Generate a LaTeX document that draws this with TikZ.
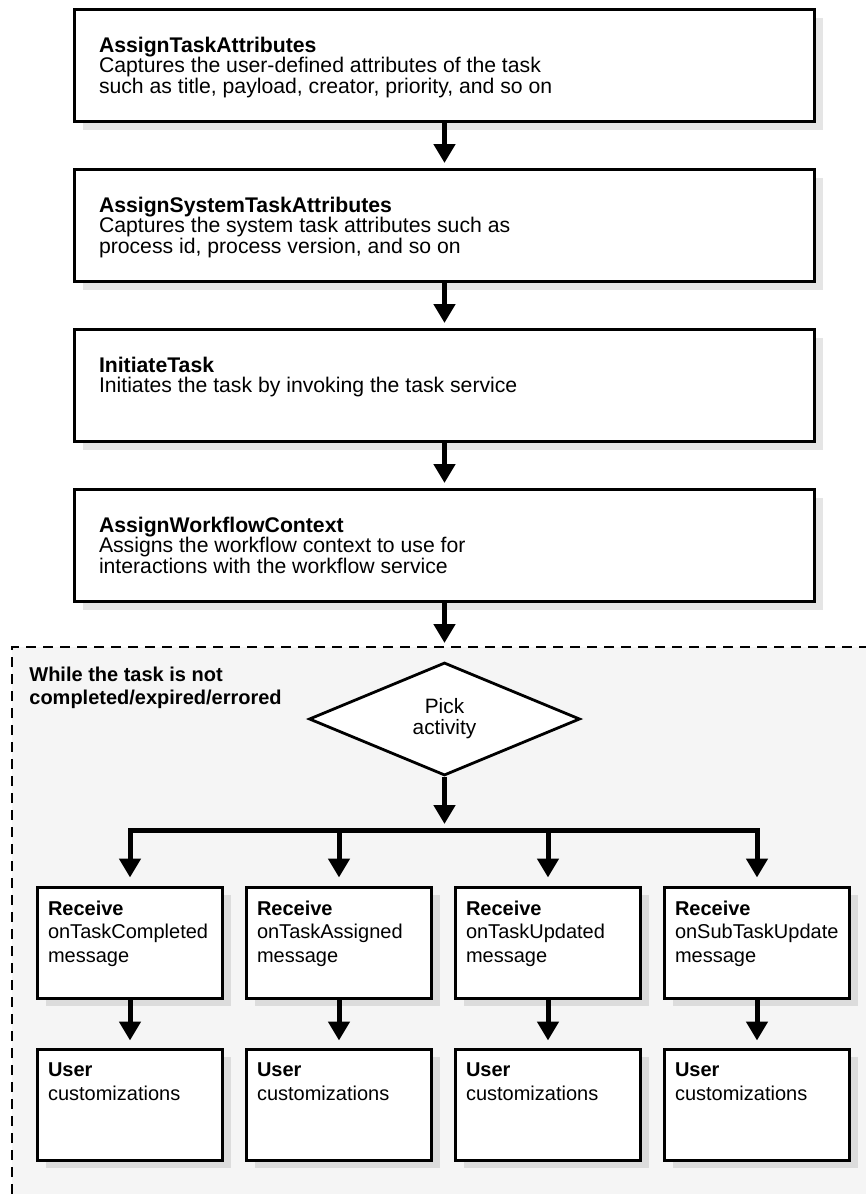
\documentclass[tikz,border=0pt]{standalone}
\usepackage{fontspec}
\setmainfont{Liberation Sans}
\usetikzlibrary{arrows.meta, positioning, shapes.geometric, shadows}
\definecolor{loopGray}{HTML}{F5F5F5}
\definecolor{lineDark}{HTML}{000000}
\hfuzz=20pt
\newcommand{\acttext}[2]{\parbox[c][56pt][t]{345.5pt}{\vspace*{13.6pt}\textbf{#1}\\#2}}
\newcommand{\msgtext}[2]{\parbox[c][55.5pt][t]{82pt}{\vspace*{6.9pt}\textbf{#1}\\#2}}

\begin{document}
\begin{tikzpicture}[
    act/.style={rectangle, draw=lineDark, line width=1.5pt, fill=white,
      minimum width=370pt, minimum height=56pt, inner xsep=12.25pt, inner ysep=0pt,
      font=\fontsize{10.6pt}{10.3pt}\selectfont,
      drop shadow={shadow xshift=4pt, shadow yshift=-4pt, fill=black, opacity=.1}},
    msg/.style={rectangle, draw=lineDark, line width=1.5pt, fill=white,
      minimum width=92.5pt, minimum height=55.5pt, inner xsep=5.25pt, inner ysep=0pt,
      font=\fontsize{10pt}{11.75pt}\selectfont,
      drop shadow={shadow xshift=4pt, shadow yshift=-4pt, fill=black, opacity=.1}},
    pick/.style={diamond, draw=lineDark, line width=1.4pt, fill=white, aspect=2.4,
      minimum width=135.5pt, minimum height=56.5pt, inner sep=0pt, align=center,
      font=\fontsize{10.4pt}{10.5pt}\selectfont},
    ar/.style={-{Triangle[length=9.5pt, width=10.5pt]}, line width=2.5pt, lineDark},
    ln/.style={line width=2.5pt, line cap=rect, lineDark},
    lb/.style={font=\bfseries\fontsize{10pt}{11.5pt}\selectfont, align=left, inner sep=0pt},
    dashbox/.style={line width=1.3pt, dash pattern=on 5pt off 3.5pt, lineDark}]
    \useasboundingbox (0,0) rectangle (433pt,-597pt);
    % loop area
    \coordinate (loop) at (6pt,-323.5pt);
    \coordinate (corner) at (433pt,-597pt);
    \fill[loopGray] (loop) rectangle (corner);
    \draw[dashbox] (loop |- corner) -- (loop) -- (loop -| corner);
    \node[lb, below right=9.7pt and 8.5pt of loop] (cond) {While the task is not\\completed/expired/errored};
    % main sequence
    \node[act] (b1) at (222.25pt,-32.75pt) {\acttext{AssignTaskAttributes}{Captures the user-defined attributes of the task\\such as title, payload, creator, priority, and so on}};
    \node[act, below=22.5pt of b1] (b2) {\acttext{AssignSystemTaskAttributes}{Captures the system task attributes such as\\process id, process version, and so on}};
    \node[act, below=22.5pt of b2] (b3) {\acttext{InitiateTask}{Initiates the task by invoking the task service}};
    \node[act, below=22.5pt of b3] (b4) {\acttext{AssignWorkflowContext}{Assigns the workflow context to use for\\interactions with the workflow service}};
    \node[pick] (pk) at (222.25pt,-359.5pt) {Pick\\activity};
    % branches
    \node[msg] (r1) at (65pt,-471.25pt) {\msgtext{Receive}{onTaskCompleted\\message}};
    \node[msg, right=10.5pt of r1] (r2) {\msgtext{Receive}{onTaskAssigned\\message}};
    \node[msg, right=10.5pt of r2] (r3) {\msgtext{Receive}{onTaskUpdated\\message}};
    \node[msg, right=10.5pt of r3] (r4) {\msgtext{Receive}{onSubTaskUpdate\\message}};
    \node[msg, below=24pt of r1] (u1) {\msgtext{User}{customizations}};
    \node[msg, below=24pt of r2] (u2) {\msgtext{User}{customizations}};
    \node[msg, below=24pt of r3] (u3) {\msgtext{User}{customizations}};
    \node[msg, below=24pt of r4] (u4) {\msgtext{User}{customizations}};
    % connectors
    \draw[ar, shorten >=2.5pt] (b1) -- (b2);
    \draw[ar, shorten >=2.5pt] (b2) -- (b3);
    \draw[ar, shorten >=2.5pt] (b3) -- (b4);
    \coordinate (entry) at (b4.south |- loop);
    \draw[ar, shorten >=2pt] (b4) -- (entry);
    \coordinate (bar) at (222.25pt,-415pt);
    \draw[ar, shorten >=3pt] (pk) -- (bar);
    \draw[ln] (r1 |- bar) -- (r4 |- bar);
    \draw[ar, shorten >=4pt] (r1 |- bar) -- (r1);
    \draw[ar, shorten >=4pt] (r2 |- bar) -- (r2);
    \draw[ar, shorten >=4pt] (r3 |- bar) -- (r3);
    \draw[ar, shorten >=4pt] (r4 |- bar) -- (r4);
    \draw[ar, shorten >=3.5pt] (r1) -- (u1);
    \draw[ar, shorten >=3.5pt] (r2) -- (u2);
    \draw[ar, shorten >=3.5pt] (r3) -- (u3);
    \draw[ar, shorten >=3.5pt] (r4) -- (u4);
  \end{tikzpicture}
\end{document}
